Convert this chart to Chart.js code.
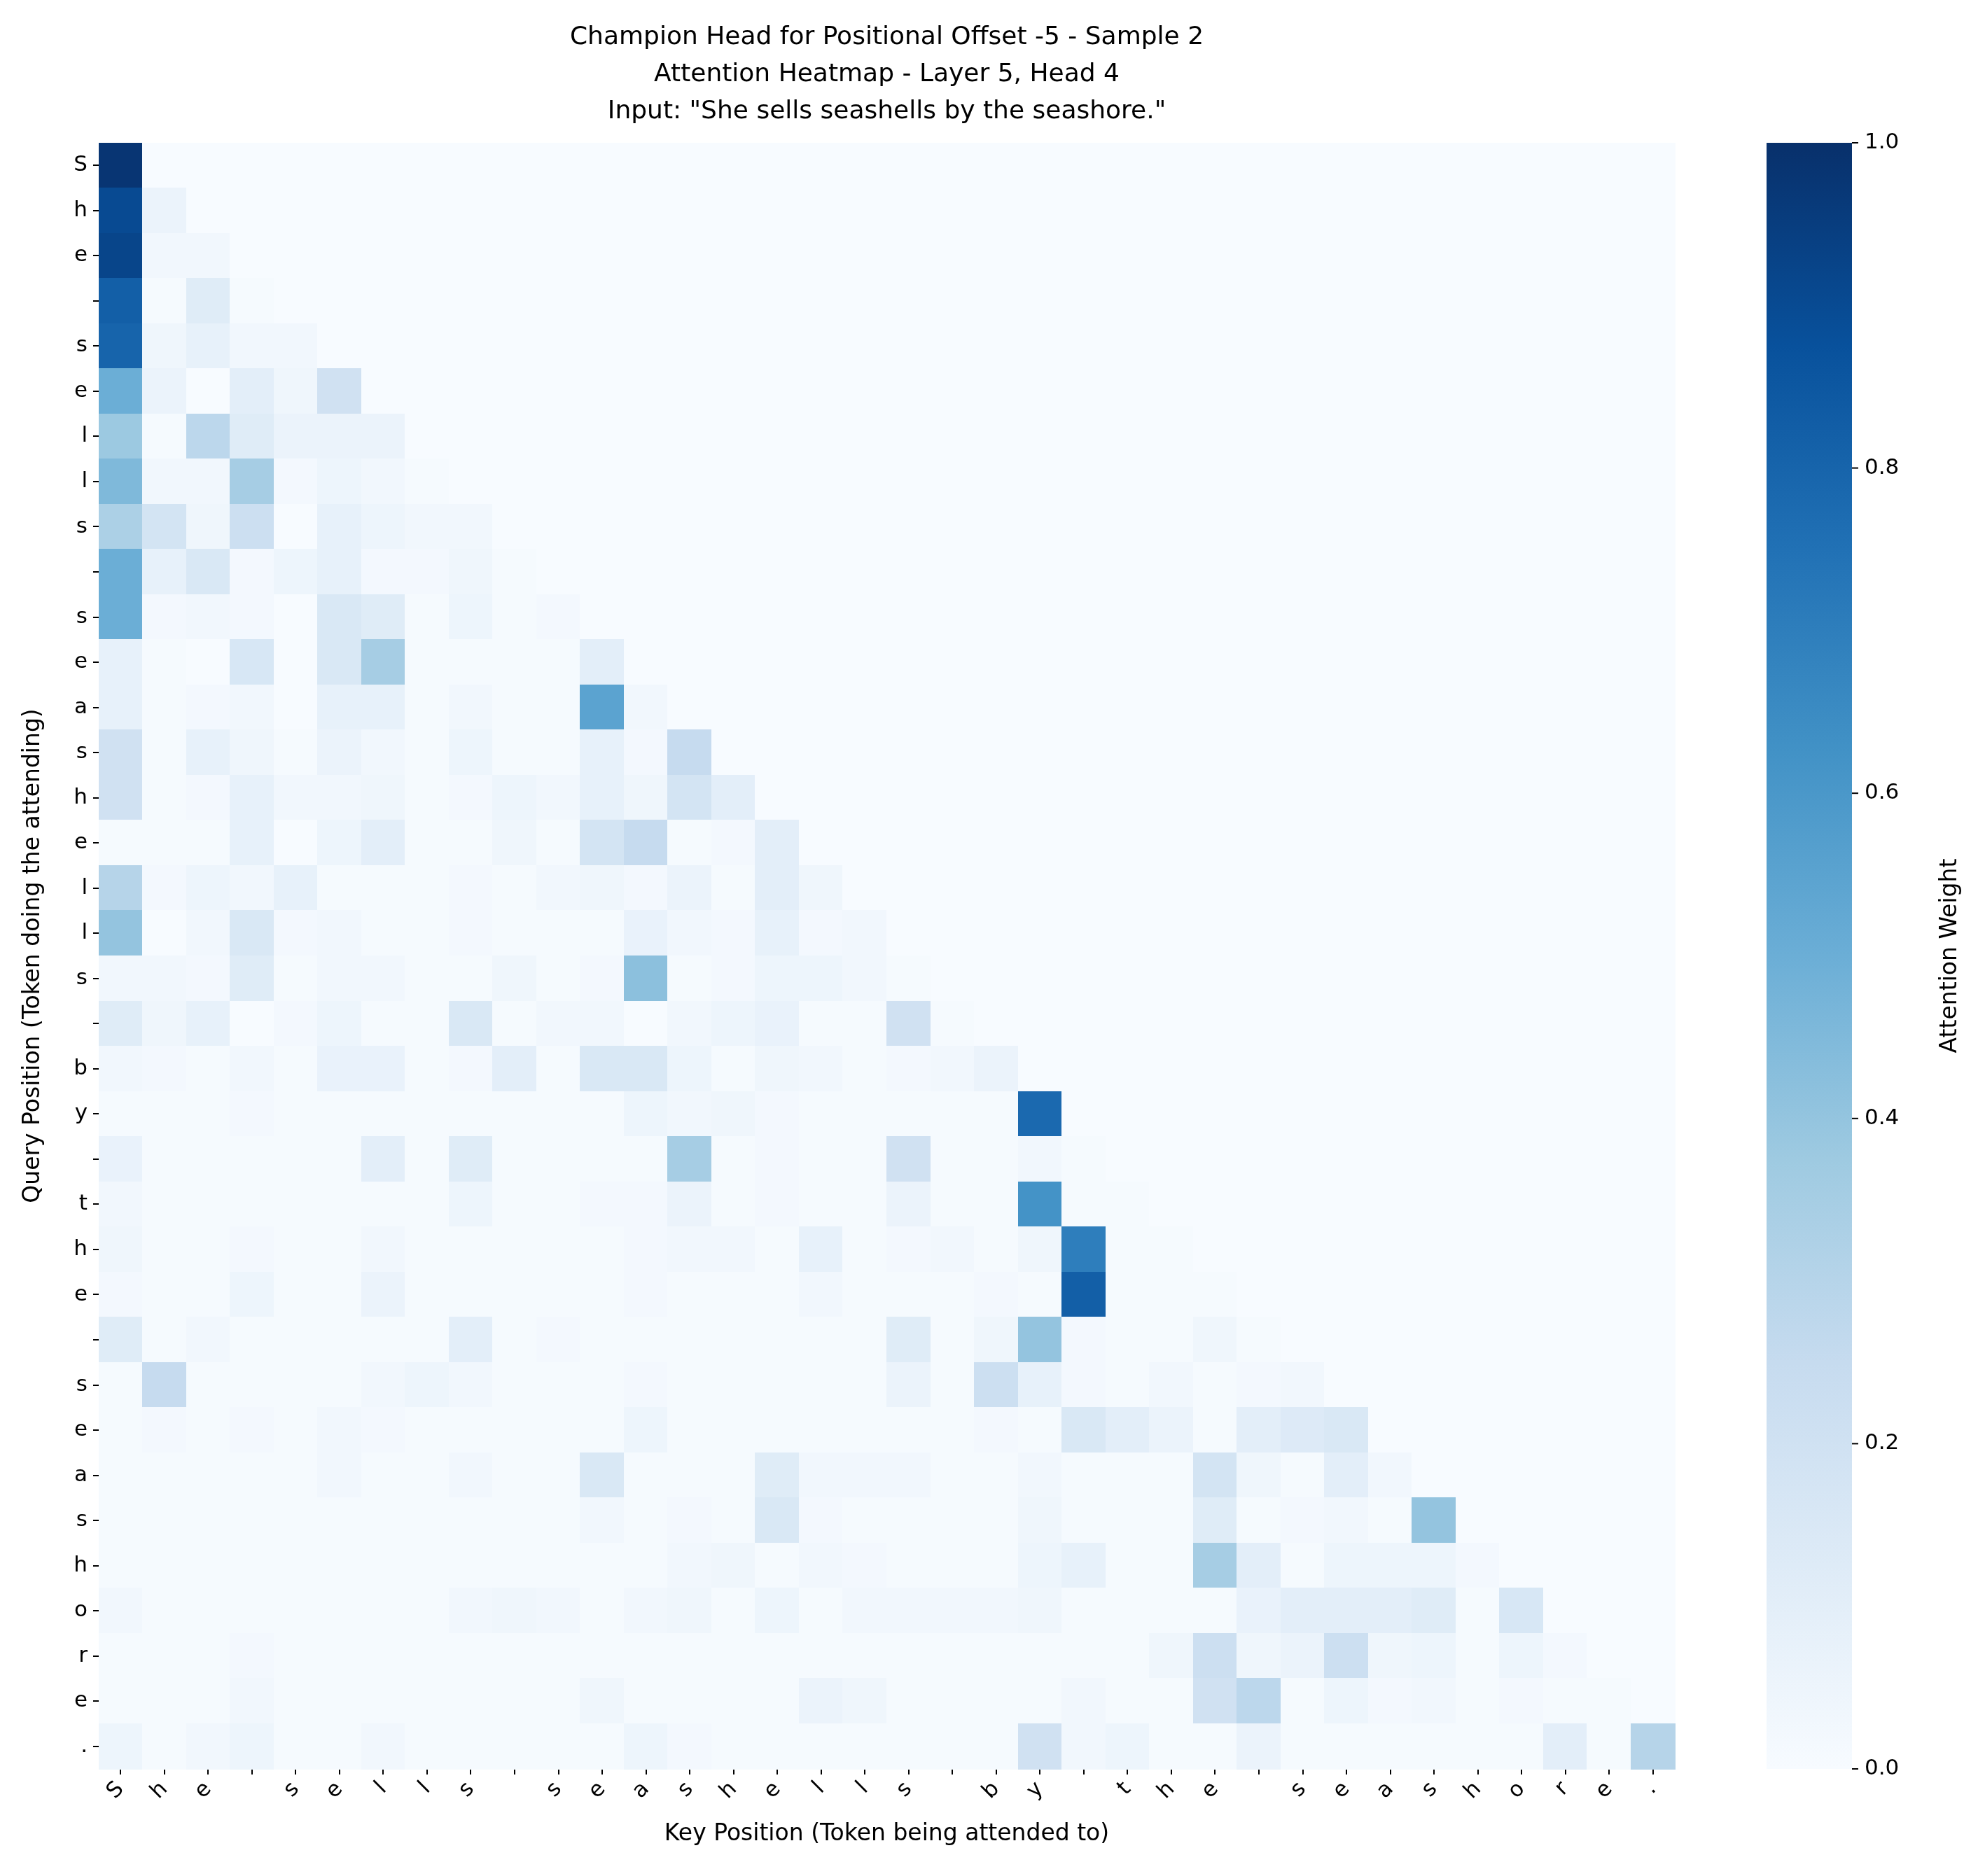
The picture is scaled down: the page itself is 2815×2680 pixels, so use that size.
<!DOCTYPE html>
<html><head><meta charset="utf-8">
<script src="https://cdn.jsdelivr.net/npm/chart.js@4/dist/chart.umd.min.js"></script>
<style>html,body{margin:0;padding:0;background:#fff}</style>
</head><body>
<canvas id="c" width="2815" height="2680"></canvas>
<script>
const tokens = "She sells seashells by the seashore.".split("");
const titleLines = ["Champion Head for Positional Offset -5 - Sample 2","Attention Heatmap - Layer 5, Head 4","Input: \"She sells seashells by the seashore.\""];
const colorbarTicks = [0,0.2,0.4,0.6,0.8,1.0];
const lowerDefault = 0.01;
// non-default attention weights per query row: {keyIndex: weight}
const rowWeights = [
{0:0.98},
{0:0.9,1:0.06},
{0:0.92,1:0.03,2:0.03},
{0:0.82,1:0.01,2:0.12},
{0:0.8,1:0.04,2:0.08,3:0.03,4:0.03},
{0:0.5,1:0.06,2:0,3:0.1,4:0.04,5:0.2},
{0:0.38,2:0.28,3:0.12,4:0.06,5:0.06,6:0.06},
{0:0.45,1:0.03,2:0.03,3:0.35,4:0.02,5:0.05,6:0.03},
{0:0.33,1:0.18,2:0.04,3:0.22,4:0,5:0.08,6:0.05,7:0.03,8:0.03},
{0:0.5,1:0.08,2:0.15,3:0.02,4:0.05,5:0.08,6:0.02,7:0.02,8:0.04},
{0:0.5,1:0.02,2:0.03,3:0.02,4:0,5:0.15,6:0.12,8:0.05,10:0.02},
{0:0.08,2:0,3:0.16,4:0,5:0.15,6:0.35,11:0.1},
{0:0.08,2:0.02,3:0.03,4:0,5:0.08,6:0.08,8:0.03,11:0.55,12:0.03},
{0:0.2,2:0.08,3:0.04,5:0.06,6:0.03,8:0.05,11:0.08,12:0.02,13:0.25},
{0:0.2,2:0.02,3:0.08,4:0.03,5:0.03,6:0.04,8:0.02,9:0.05,10:0.03,11:0.08,12:0.04,13:0.18,14:0.1},
{0:0.01,3:0.08,4:0,5:0.05,6:0.1,9:0.04,11:0.18,12:0.25,14:0.02,15:0.1},
{0:0.3,1:0.02,2:0.05,3:0.03,4:0.08,8:0.02,10:0.03,11:0.04,12:0.02,13:0.06,15:0.1,16:0.04},
{0:0.4,1:0,2:0.03,3:0.15,4:0.02,5:0.03,8:0.02,12:0.07,13:0.03,14:0.02,15:0.08,16:0.02,17:0.03},
{0:0.03,1:0.03,2:0.02,3:0.12,5:0.03,6:0.03,9:0.04,11:0.02,12:0.42,14:0.02,15:0.05,16:0.05,17:0.03},
{0:0.12,1:0.04,2:0.08,3:0,4:0.02,5:0.05,8:0.15,10:0.03,11:0.03,12:0,13:0.03,14:0.05,15:0.07,18:0.2},
{0:0.03,1:0.02,3:0.03,5:0.07,6:0.07,8:0.02,9:0.1,11:0.15,12:0.15,13:0.05,15:0.04,16:0.03,18:0.02,19:0.03,20:0.06},
{3:0.02,12:0.05,13:0.03,14:0.04,15:0.02,21:0.78},
{0:0.07,6:0.1,8:0.12,13:0.35,15:0.02,18:0.2,21:0.03},
{0:0.03,8:0.05,11:0.02,12:0.02,13:0.06,15:0.02,18:0.06,21:0.62},
{0:0.04,3:0.02,6:0.03,12:0.02,13:0.03,14:0.03,16:0.08,18:0.02,19:0.03,21:0.04,22:0.7},
{0:0.02,3:0.05,6:0.06,12:0.02,16:0.03,20:0.02,22:0.82},
{0:0.12,2:0.03,8:0.1,10:0.02,18:0.12,20:0.04,21:0.4,22:0.02,25:0.04},
{1:0.25,6:0.03,7:0.05,8:0.03,12:0.02,18:0.06,20:0.22,21:0.08,22:0.02,24:0.03,26:0.02,27:0.03},
{1:0.02,3:0.02,5:0.03,6:0.02,12:0.05,20:0.02,22:0.15,23:0.1,24:0.06,26:0.1,27:0.13,28:0.15},
{5:0.03,8:0.03,11:0.15,15:0.12,16:0.03,17:0.03,18:0.03,21:0.03,25:0.18,26:0.04,28:0.1,29:0.03},
{11:0.03,13:0.02,15:0.15,16:0.02,21:0.04,25:0.12,27:0.02,28:0.03,30:0.4},
{13:0.03,14:0.04,16:0.03,17:0.02,21:0.05,22:0.08,25:0.35,26:0.1,28:0.05,29:0.05,30:0.05,31:0.02},
{0:0.03,8:0.03,9:0.04,10:0.03,12:0.03,13:0.04,15:0.05,17:0.03,18:0.03,19:0.03,20:0.03,21:0.04,26:0.07,27:0.1,28:0.1,29:0.1,30:0.12,32:0.16},
{3:0.02,24:0.04,25:0.22,26:0.04,27:0.06,28:0.22,29:0.04,30:0.05,32:0.05,33:0.02},
{3:0.03,11:0.04,16:0.06,17:0.04,22:0.03,25:0.2,26:0.28,28:0.05,29:0.02,30:0.03,32:0.02},
{0:0.05,2:0.03,3:0.05,6:0.03,12:0.05,13:0.02,21:0.2,22:0.03,23:0.05,26:0.06,33:0.1,35:0.3}
];
const blues = ["#f7fbff","#deebf7","#c6dbef","#9ecae1","#6baed6","#4292c6","#2171b5","#08519c","#08306b"];
function hex(h){return [1,3,5].map(i=>parseInt(h.substr(i,2),16));}
function cmap(v){v=Math.max(0,Math.min(1,v));const p=v*8,i=Math.min(7,Math.floor(p)),f=p-i;const a=hex(blues[i]),b=hex(blues[i+1]);return `rgb(${a.map((x,k)=>Math.round(x+(b[k]-x)*f)).join(',')})`;}
const cells=[];
for(let r=0;r<tokens.length;r++)for(let c=0;c<tokens.length;c++){
  let v=c<=r?lowerDefault:0; if(rowWeights[r][c]!==undefined)v=rowWeights[r][c];
  cells.push({x:c,y:r,v});
}
const FONT="'DejaVu Sans'";
const heat={id:'heat',
 beforeDatasetsDraw(ch){const ctx=ch.ctx,xs=ch.scales.x,ys=ch.scales.y;
  ch.data.datasets[0].data.forEach(d=>{const x0=xs.getPixelForValue(d.x-0.5),x1=xs.getPixelForValue(d.x+0.5),y0=ys.getPixelForValue(d.y-0.5),y1=ys.getPixelForValue(d.y+0.5);
   ctx.fillStyle=cmap(d.v);ctx.fillRect(Math.floor(x0),Math.floor(y0),Math.ceil(x1-x0)+1,Math.ceil(y1-y0)+1);});},
 afterDraw(ch){const ctx=ch.ctx,a=ch.chartArea;
  ctx.save();ctx.fillStyle='#000';ctx.textAlign='center';ctx.textBaseline='middle';ctx.font=`36px ${FONT}`;
  titleLines.forEach((t,i)=>ctx.fillText(t,(a.left+a.right)/2,54+i*53));
  const cx0=2523,cx1=2645,top=a.top,bot=a.bottom;
  const g=ctx.createLinearGradient(0,bot,0,top);blues.forEach((c,i)=>g.addColorStop(i/8,c));
  ctx.fillStyle=g;ctx.fillRect(cx0,top,cx1-cx0,bot-top);
  ctx.font=`31px ${FONT}`;ctx.textAlign='left';ctx.strokeStyle='#000';ctx.lineWidth=2;
  colorbarTicks.forEach(t=>{const y=bot-(bot-top)*t;ctx.beginPath();ctx.moveTo(cx1,y);ctx.lineTo(cx1+9,y);ctx.stroke();ctx.fillStyle='#000';ctx.fillText(t.toFixed(1),cx1+18,y);});
  ctx.translate(2785,(top+bot)/2);ctx.rotate(-Math.PI/2);ctx.textAlign='center';ctx.font=`33px ${FONT}`;ctx.fillText('Attention Weight',0,0);
  ctx.restore();}
};
const tickSet=s=>{s.ticks=tokens.map((_,i)=>({value:i}));};
new Chart(document.getElementById('c'),{type:'scatter',
 data:{datasets:[{data:cells,pointRadius:0,pointHoverRadius:0}]},
 options:{responsive:false,animation:false,devicePixelRatio:1,
  layout:{padding:{left:28,top:204,right:423,bottom:40}},
  plugins:{legend:{display:false},tooltip:{enabled:false}},
  scales:{
   x:{type:'linear',min:-0.5,max:35.5,afterBuildTicks:tickSet,afterFit:s=>{s.height=113;},
    border:{display:false},grid:{drawOnChartArea:false,drawTicks:true,tickLength:8,color:'#000',lineWidth:2},
    ticks:{autoSkip:false,minRotation:45,maxRotation:45,color:'#000',font:{family:FONT,size:31},callback:v=>tokens[v]},
    title:{display:true,text:'Key Position (Token being attended to)',color:'#000',font:{family:FONT,size:33},padding:0}},
   y:{type:'linear',min:-0.5,max:35.5,reverse:true,afterBuildTicks:tickSet,afterFit:s=>{s.width=113;},
    border:{display:false},grid:{drawOnChartArea:false,drawTicks:true,tickLength:8,color:'#000',lineWidth:2},
    ticks:{autoSkip:false,padding:8,color:'#000',font:{family:FONT,size:31},callback:v=>tokens[v]},
    title:{display:true,text:'Query Position (Token doing the attending)',color:'#000',font:{family:FONT,size:33},padding:0}}
  }},
 plugins:[heat]});
</script>
</body></html>
